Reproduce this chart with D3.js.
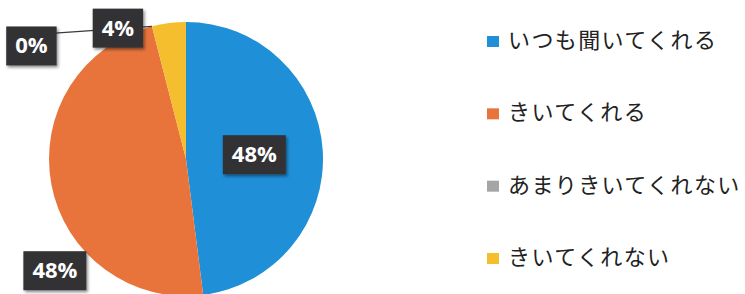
<!DOCTYPE html>
<html>
<head>
<meta charset="utf-8">
<script src="https://cdn.jsdelivr.net/npm/d3@7"></script>
<style>
  body { margin: 0; background: #fff; }
  svg { display: block; }
  .lbl { font-family: "Open Sans", "DejaVu Sans", sans-serif; font-weight: 700; font-size: 22px; fill: #fff; }
  .leg { font-family: "Noto Sans CJK JP", sans-serif; font-size: 22px; fill: #222; letter-spacing: 1.4px; }
</style>
</head>
<body>
<svg width="745" height="294"></svg>
<script>
var categories = ["いつも聞いてくれる", "きいてくれる", "あまりきいてくれない", "きいてくれない"];
var values = [48, 48, 0, 4];
var colors = ["#1f8fd8", "#e8743c", "#a5a5a5", "#f4be2e"];

// where each label box sits: [angle in degrees from 12 o'clock, distance as share of radius]
var labelPlace = [[86, 0.5], [229.7, 1.255], [306.3, 1.4], [332.6, 1.08]];

var svg = d3.select("svg"),
    cx = 186, cy = 159, radius = 137;

var defs = svg.append("defs");
defs.append("filter")
    .attr("id", "shadow")
    .attr("x", "-20%").attr("y", "-20%").attr("width", "150%").attr("height", "160%")
  .append("feDropShadow")
    .attr("dx", 1.5).attr("dy", 2).attr("stdDeviation", 1.5)
    .attr("flood-color", "#000").attr("flood-opacity", 0.45);

var pie = d3.pie().sort(null).value(function(d) { return d; });
var arc = d3.arc().innerRadius(0).outerRadius(radius);
var arcs = pie(values);

var g = svg.append("g").attr("transform", "translate(" + cx + "," + cy + ")");

g.selectAll("path.slice")
    .data(arcs)
    .enter().append("path")
    .attr("class", "slice")
    .attr("d", arc)
    .style("fill", function(d, i) { return colors[i]; });

function polar(deg, r) {
    var a = deg * Math.PI / 180;
    return [r * Math.sin(a), -r * Math.cos(a)];
}

var labels = arcs.map(function(d, i) {
    var p = polar(labelPlace[i][0], labelPlace[i][1] * radius);
    return { d: d, i: i, x: p[0], y: p[1], text: Math.round(d.value) + "%" };
});

// leader line for the 0% slice, drawn under the boxes
labels.forEach(function(l) {
    if (l.d.value === 0) {
        var mid = (l.d.startAngle + l.d.endAngle) / 2;
        var end = [radius * Math.sin(mid), -radius * Math.cos(mid)];
        g.append("line")
            .attr("x1", l.x + 20).attr("y1", l.y - 12)
            .attr("x2", end[0]).attr("y2", end[1])
            .style("stroke", "#3a3a3a")
            .style("stroke-width", 1.3);
    }
});

var lab = g.selectAll("g.lab")
    .data(labels)
    .enter().append("g")
    .attr("class", "lab")
    .attr("transform", function(l) { return "translate(" + l.x + "," + l.y + ")"; });

lab.append("text")
    .attr("class", "lbl")
    .attr("text-anchor", "middle")
    .attr("dy", "0.36em")
    .text(function(l) { return l.text; })
    .each(function(l) { l.w = this.getComputedTextLength(); });

lab.insert("rect", "text")
    .attr("x", function(l) { return -l.w / 2 - 9; })
    .attr("y", -19)
    .attr("width", function(l) { return l.w + 18; })
    .attr("height", 39)
    .style("fill", "#333335")
    .attr("filter", "url(#shadow)");

// legend
var legY = d3.scalePoint().domain(categories).range([40, 257]);

var leg = svg.selectAll("g.legend")
    .data(categories)
    .enter().append("g")
    .attr("class", "legend")
    .attr("transform", function(d) { return "translate(487," + legY(d) + ")"; });

leg.append("rect")
    .attr("x", 0).attr("y", -4)
    .attr("width", 12).attr("height", 11)
    .style("fill", function(d, i) { return colors[i]; });

leg.append("text")
    .attr("class", "leg")
    .attr("x", 21)
    .attr("dy", "0.36em")
    .text(function(d) { return d; });
</script>
</body>
</html>
